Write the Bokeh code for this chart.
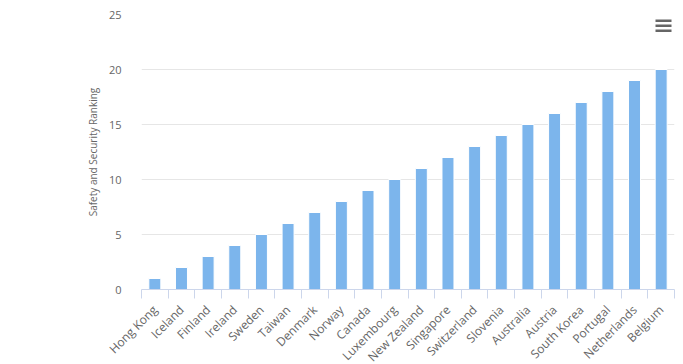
import math
from bokeh.plotting import figure
from bokeh.models import FixedTicker, Range1d, BoxAnnotation
from bokeh.embed import file_html
from bokeh.resources import INLINE

countries = ["Hong Kong", "Iceland", "Finland", "Ireland", "Sweden", "Taiwan", "Denmark",
             "Norway", "Canada", "Luxembourg", "New Zealand", "Singapore", "Switzerland",
             "Slovenia", "Australia", "Austria", "South Korea", "Portugal", "Netherlands", "Belgium"]
ranking = [1, 2, 3, 4, 5, 6, 7, 8, 9, 10, 11, 12, 13, 14, 15, 16, 17, 18, 19, 20]
y_ticks = [0, 5, 10, 15, 20, 25]

FONT = "Open Sans"

n = len(countries)
centers = [i + 0.5 for i in range(n)]

FW, FH = 533, 275
p = figure(frame_width=FW, frame_height=FH, output_backend="svg", toolbar_location=None,
           x_range=Range1d(0, n), y_range=Range1d(0, 25),
           min_border_left=141, min_border_right=1, min_border_top=14, min_border_bottom=70)
p.outline_line_color = None
p.background_fill_color = "white"
p.border_fill_color = "white"

p.vbar(x=centers, top=ranking, width=0.45, fill_color="#7cb5ec", line_color="#ffffff", line_width=1)

# x axis
xa = p.xaxis[0]
xa.ticker = FixedTicker(ticks=centers, minor_ticks=[float(i) for i in range(n + 1)])
xa.major_label_overrides = {c: name for c, name in zip(centers, countries)}
xa.major_label_orientation = math.pi / 4
xa.major_tick_line_color = None
xa.minor_tick_line_color = "#ccd6eb"
xa.minor_tick_in = 0
xa.minor_tick_out = 9
xa.axis_line_color = "#ccd6eb"
xa.major_label_text_font = FONT
xa.major_label_text_font_size = "12px"
xa.major_label_text_color = "#666666"
xa.major_label_standoff = 9

# y axis
ya = p.yaxis[0]
ya.ticker = FixedTicker(ticks=y_ticks)
ya.axis_line_color = None
ya.major_tick_line_color = None
ya.minor_tick_line_color = None
ya.major_label_standoff = 14
ya.major_label_text_font = FONT
ya.major_label_text_font_size = "11px"
ya.major_label_text_color = "#666666"
ya.axis_label = "Safety and Security Ranking"
ya.axis_label_text_font = FONT
ya.axis_label_text_font_size = "10px"
ya.axis_label_text_font_style = "normal"
ya.axis_label_text_color = "#666666"
ya.axis_label_standoff = 6

p.xgrid.grid_line_color = None
p.ygrid.grid_line_color = "#e6e6e6"
p.ygrid.ticker = FixedTicker(ticks=y_ticks)

# context-menu icon (three bars)
for off in (5, 10, 15):
    p.add_layout(BoxAnnotation(left=FW - 19, right=FW - 3, top=FH - off, bottom=FH - off - 2.5,
                               left_units="screen", right_units="screen",
                               top_units="screen", bottom_units="screen",
                               fill_color="#666666", fill_alpha=1.0, line_color=None))

open("out.html", "w").write(file_html(p, INLINE))
